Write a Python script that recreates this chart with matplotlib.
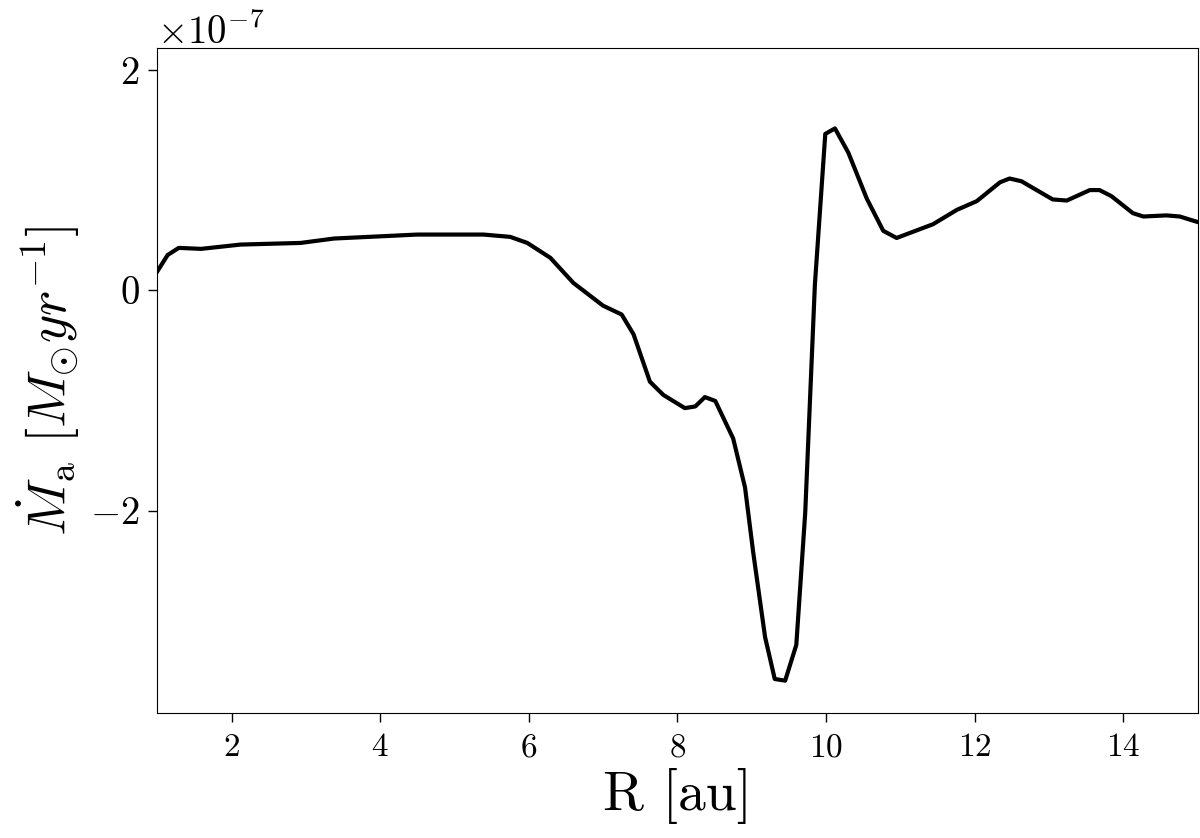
import matplotlib
matplotlib.use("Agg")
import matplotlib.pyplot as plt

# radius [au] and accretion rate [1e-7 Msun/yr]
R = [1.0, 1.14, 1.29, 1.59, 2.12, 2.93, 3.38, 4.5, 5.39, 5.75, 5.98, 6.29, 6.6,
     7.0, 7.25, 7.41, 7.63, 7.81, 8.1, 8.24, 8.37, 8.51, 8.75, 8.91, 9.02, 9.18,
     9.31, 9.45, 9.6, 9.72, 9.85, 9.99, 10.12, 10.3, 10.55, 10.77, 10.95, 11.44,
     11.76, 12.03, 12.34, 12.47, 12.63, 13.05, 13.24, 13.55, 13.68, 13.84, 14.13,
     14.27, 14.58, 14.76, 15.0]
Mdot = [0.17, 0.32, 0.385, 0.376, 0.415, 0.43, 0.47, 0.506, 0.506, 0.485, 0.43,
        0.295, 0.067, -0.14, -0.22, -0.40, -0.83, -0.95, -1.07, -1.055, -0.97,
        -1.005, -1.345, -1.79, -2.38, -3.15, -3.53, -3.545, -3.22, -2.02, 0.05,
        1.42, 1.47, 1.25, 0.83, 0.54, 0.475, 0.6, 0.73, 0.81, 0.98, 1.015, 0.99,
        0.825, 0.815, 0.91, 0.91, 0.855, 0.70, 0.67, 0.68, 0.67, 0.62]

plt.rcParams['font.family'] = 'serif'
plt.rcParams['font.serif'] = ['cmr10']
plt.rcParams['mathtext.fontset'] = 'cm'
plt.rcParams['axes.formatter.use_mathtext'] = True
plt.rcParams['axes.unicode_minus'] = True

fig = plt.figure(figsize=(12, 8.38), dpi=100)
ax = fig.add_axes([0.131, 0.149, 0.867, 0.7937])

ax.plot(R, [v * 1e-7 for v in Mdot], color='black', lw=3)

ax.set_xlim(1, 15)
ax.set_ylim(-3.84e-7, 2.2e-7)
ax.set_xticks([2, 4, 6, 8, 10, 12, 14])
ax.set_yticks([-2e-7, 0, 2e-7])
ax.tick_params(axis='x', labelsize=24, length=6.5, width=1, pad=8)
ax.tick_params(axis='y', labelsize=28, length=6.5, width=1, pad=6)
ax.yaxis.get_offset_text().set_fontsize(28)

ax.set_xlabel('R [au]', fontsize=40, labelpad=4)
ax.set_ylabel(r'$\dot{M}_{\rm a}\ [M_{\odot} yr^{-1}]$', fontsize=39, labelpad=6)

fig.savefig('out.png', dpi=100)
